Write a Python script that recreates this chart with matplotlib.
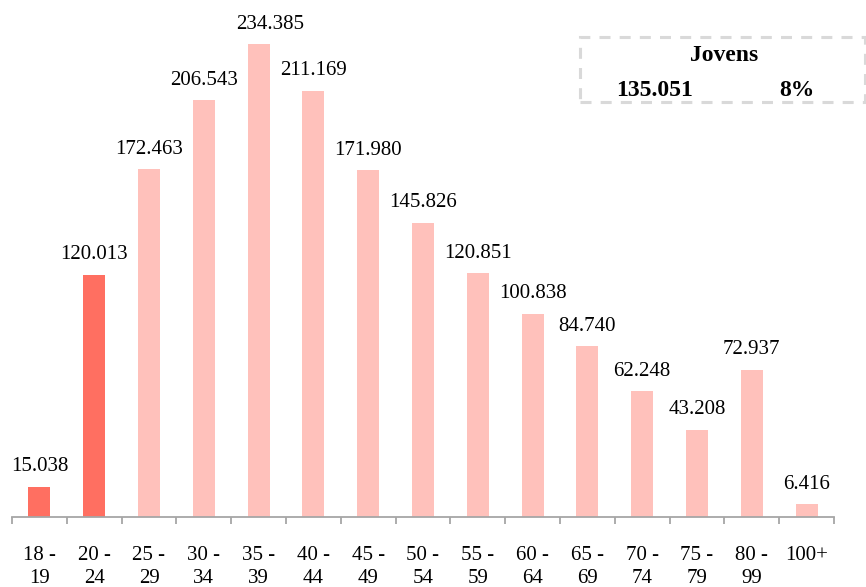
import numpy as np
import matplotlib.pyplot as plt

faixas = ["18 -\n19", "20 -\n24", "25 -\n29", "30 -\n34", "35 -\n39", "40 -\n44",
          "45 -\n49", "50 -\n54", "55 -\n59", "60 -\n64", "65 -\n69", "70 -\n74",
          "75 -\n79", "80 -\n99", "100+"]
eleitores = [15038, 120013, 172463, 206543, 234385, 211169, 171980, 145826,
             120851, 100838, 84740, 62248, 43208, 72937, 6416]
jovens = [True, True] + [False] * 13
jovens_total = "135.051"
jovens_pct = "8%"

cor_forte = "#FF6F61"
cor_fraca = "#FFC1BB"

plt.rcParams['font.family'] = ['Liberation Serif', 'DejaVu Serif']

fig = plt.figure(figsize=(8.66, 5.87), dpi=100)
ax = fig.add_axes([12 / 866, 70 / 587, 822 / 866, 517 / 587])

x = np.arange(len(faixas))
cores = [cor_forte if j else cor_fraca for j in jovens]
bars = ax.bar(x, eleitores, width=0.4, color=cores)

for xi, v in zip(x, eleitores):
    txt = f"{v:,}".replace(",", ".")
    dx = 8 if v == max(eleitores) else 0  # rotulo do maior deslocado
    ax.annotate(txt, (xi, v), xytext=(dx, 7.5), textcoords="offset points",
                ha="center", va="bottom", fontsize=15)

ax.set_xlim(-0.5, len(faixas) - 0.5)
ax.set_ylim(0, 256200)
ax.set_yticks([])
for s in ["top", "left", "right"]:
    ax.spines[s].set_visible(False)
ax.spines["bottom"].set_color("#A6A6A6")
ax.spines["bottom"].set_linewidth(1.3)

ax.set_xticks(x)
ax.set_xticklabels(faixas, fontsize=15, linespacing=1.25)
ax.tick_params(axis="x", which="major", length=0, pad=21)
ax.set_xticks(np.arange(len(faixas) + 1) - 0.5, minor=True)
ax.tick_params(axis="x", which="minor", length=5, width=1.3, color="#A6A6A6")

# caixa Jovens
caixa = plt.Rectangle((580 / 866, 1 - 102 / 587), 285 / 866, 65 / 587,
                      transform=fig.transFigure, fill=False, edgecolor="#D9D9D9",
                      linestyle=(0, (3.6, 3)), linewidth=2.2)
fig.add_artist(caixa)
fig.text(724 / 866, 1 - 61 / 587, "Jovens", ha="center", va="baseline",
         fontsize=17, fontweight="bold")
fig.text(655 / 866, 1 - 96 / 587, jovens_total, ha="center", va="baseline",
         fontsize=17, fontweight="bold")
fig.text(797 / 866, 1 - 96 / 587, jovens_pct, ha="center", va="baseline",
         fontsize=17, fontweight="bold")

fig.savefig("out.png", dpi=100)
